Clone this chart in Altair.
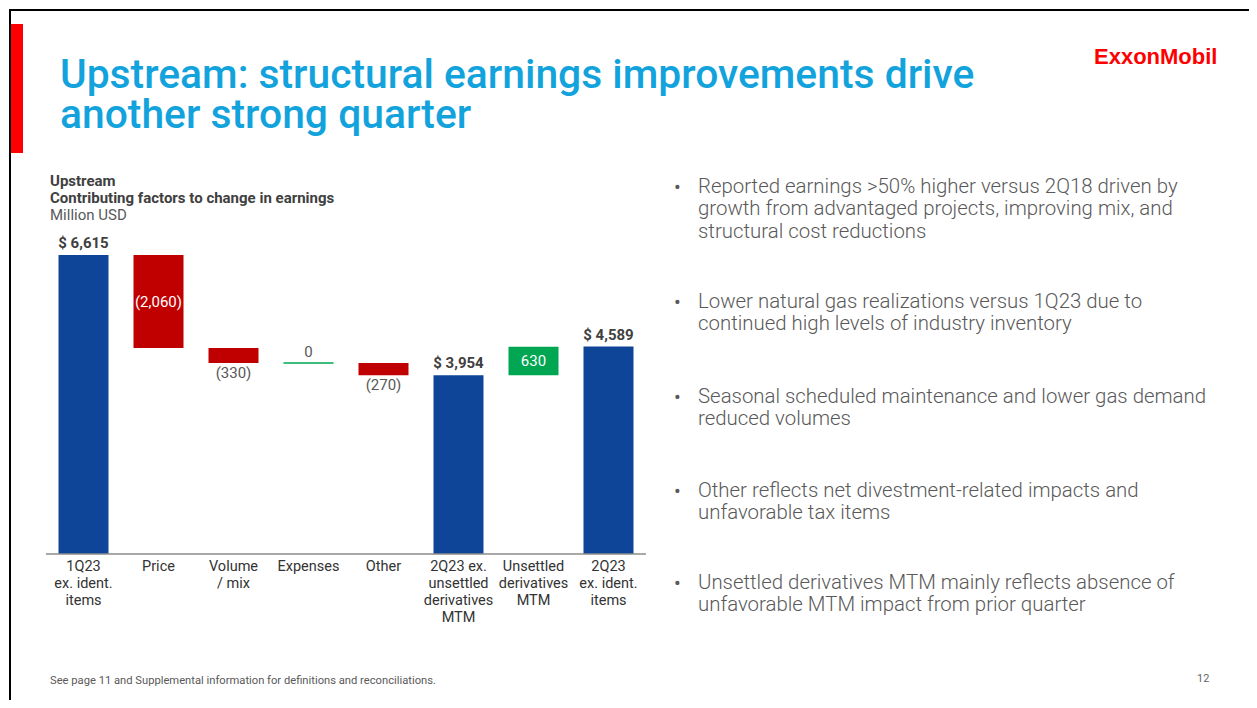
import altair as alt
import pandas as pd

# ---------------- data ----------------
categories = ["1Q23 ex. ident. items", "Price", "Volume / mix", "Expenses", "Other",
              "2Q23 ex. unsettled derivatives MTM", "Unsettled derivatives MTM",
              "2Q23 ex. ident. items"]
category_labels = ["1Q23\nex. ident.\nitems", "Price", "Volume\n/ mix", "Expenses", "Other",
                   "2Q23 ex.\nunsettled\nderivatives\nMTM", "Unsettled\nderivatives\nMTM",
                   "2Q23\nex. ident.\nitems"]
values = [6615, -2060, -330, 0, -270, 3954, 630, 4589]
kinds = ["total", "delta", "delta", "delta", "delta", "total", "delta", "total"]

title_text = "Upstream: structural earnings improvements drive\nanother strong quarter"
subtitle_bold = "Upstream\nContributing factors to change in earnings"
subtitle_unit = "Million USD"
bullets = [
    "Reported earnings >50% higher versus 2Q18 driven by\ngrowth from advantaged projects, improving mix, and\nstructural cost reductions",
    "Lower natural gas realizations versus 1Q23 due to\ncontinued high levels of industry inventory",
    "Seasonal scheduled maintenance and lower gas demand\nreduced volumes",
    "Other reflects net divestment-related impacts and\nunfavorable tax items",
    "Unsettled derivatives MTM mainly reflects absence of\nunfavorable MTM impact from prior quarter",
]
footnote = "See page 11 and Supplemental information for definitions and reconciliations."
page_number = "12"
logo = "ExxonMobil"

# ---------------- styles ----------------
BLUE = "#0e4598"
RED = "#c00000"
GREEN = "#00a651"
TITLE_BLUE = "#12a3dd"
FONT = "Roboto"

# ---------------- waterfall table ----------------
rows = []
running = 0
for cat, lab, v, k in zip(categories, category_labels, values, kinds):
    if k == "total":
        start, end = 0, v
        running = v
        color = BLUE
        text = f"$ {v:,}"
        pos = "total"
        ly = end
    else:
        start, end = running, running + v
        running = end
        color = RED if v < 0 else GREEN
        text = f"({abs(v):,})" if v < 0 else f"{v:,}"
        if abs(v) >= 500:
            pos = "inside"
            ly = (start + end) / 2
        elif v < 0:
            pos = "below"
            ly = min(start, end)
        else:
            pos = "above"
            ly = max(start, end)
    rows.append(dict(cat=cat, label=lab, value=v, start=start, end=end,
                     color=color, text=text, pos=pos, ly=ly, zero=(v == 0)))
df = pd.DataFrame(rows)

W, H = 1241, 692
x_scale = alt.Scale(domain=categories, range=[37, 637], paddingInner=1 / 3, paddingOuter=1 / 6)
y_top = 545 - 7000 * 299 / 6615
y_scale = alt.Scale(domain=[0, 7000], range=[545, y_top], nice=False, zero=True)

base = alt.Chart(df)
X = alt.X("cat:N", scale=x_scale, axis=None)

bars = base.transform_filter("!datum.zero").mark_bar().encode(
    x=X,
    y=alt.Y("start:Q", scale=y_scale, axis=None),
    y2="end:Q",
    color=alt.Color("color:N", scale=None),
)
zero_bars = base.transform_filter("datum.zero").mark_bar(stroke=GREEN, strokeWidth=1.5, fill=GREEN).encode(
    x=X,
    y=alt.Y("start:Q", scale=y_scale, axis=None),
    y2="end:Q",
)

def lbl(pos, **kw):
    return base.transform_filter(f"datum.pos == '{pos}'").mark_text(font=FONT, **kw).encode(
        x=X, y=alt.Y("ly:Q", scale=y_scale, axis=None), text="text:N")

total_lbl = lbl("total", baseline="bottom", dy=-4, fontSize=15, fontWeight="bold", color="#404040")
inside_lbl = lbl("inside", baseline="middle", fontSize=15, color="white")
below_lbl = lbl("below", baseline="top", dy=3, fontSize=15, color="#595959")
above_lbl = lbl("above", baseline="bottom", dy=-3, fontSize=15, color="#595959")

cat_lbl = base.mark_text(font=FONT, fontSize=14.5, baseline="top", lineBreak="\n", lineHeight=17,
                         color="#333333").encode(x=X, y=alt.value(551), text="label:N")

one = alt.Data(values=[{}])
axis_line = alt.Chart(one).mark_rule(color="#8c8c8c", strokeWidth=1.5).encode(
    x=alt.value(37), x2=alt.value(637), y=alt.value(545))

def deco(text, x, y, **kw):
    opts = dict(align="left", baseline="middle", font=FONT, lineBreak="\n")
    opts.update(kw)
    return alt.Chart(alt.Data(values=[{"t": text}])).mark_text(**opts).encode(
        x=alt.value(x), y=alt.value(y), text="t:N")

layers = [bars, zero_bars, axis_line, total_lbl, inside_lbl, below_lbl, above_lbl, cat_lbl]

# frame and accent
layers.append(alt.Chart(one).mark_rule(color="black", strokeWidth=2).encode(
    x=alt.value(1), y=alt.value(0), y2=alt.value(H)))
layers.append(alt.Chart(one).mark_rule(color="black", strokeWidth=2).encode(
    x=alt.value(0), x2=alt.value(W), y=alt.value(1)))
layers.append(alt.Chart(one).mark_rect(color="#ff0000").encode(
    x=alt.value(2), x2=alt.value(14), y=alt.value(15), y2=alt.value(144)))

# title
layers.append(deco(title_text, 51, 79, baseline="alphabetic", fontSize=40.8, fontWeight=500,
                   lineHeight=40, color=TITLE_BLUE))
layers.append(deco(logo, 1085, 48, fontSize=22, fontWeight="bold", font="Liberation Sans", color="#ff0000"))

# subtitle
layers.append(deco(subtitle_bold, 41, 165, baseline="top", fontSize=15, fontWeight="bold",
                   lineHeight=17, color="#404040"))
layers.append(deco(subtitle_unit, 41, 206, fontSize=15, color="#595959"))

# bullets
bullet_y = [179, 294, 389, 483, 575]
for b, by in zip(bullets, bullet_y):
    layers.append(deco("•", 665, by, fontSize=20, color="#595959"))
    layers.append(deco(b, 689, by - 11.5, baseline="top", fontSize=20.4, fontWeight=300,
                       lineHeight=22.5, color="#595959"))

layers.append(deco(footnote, 41, 672, fontSize=11.2, color="#595959"))
layers.append(deco(page_number, 1188, 670, fontSize=11, color="#666666"))

chart = alt.layer(*layers).properties(
    width=W, height=H,
    autosize=alt.AutoSizeParams(type="fit", contains="padding"),
    padding=0,
    background="white",
).configure_view(stroke=None)

chart.save("out.html", embed_options={"renderer": "svg", "actions": False})
